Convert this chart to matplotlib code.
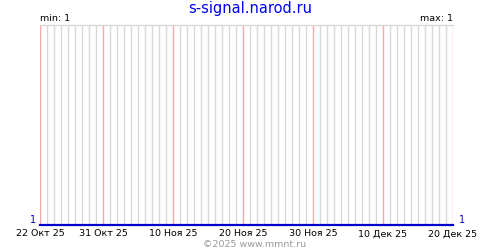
import numpy as np
import pandas as pd
import matplotlib
matplotlib.use("Agg")
import matplotlib.pyplot as plt
import matplotlib.dates as mdates

# Series: one value per day, all equal to 1
dates = pd.date_range("2025-10-22", "2025-12-20", freq="D")
values = [1] * len(dates)

major_dates = pd.to_datetime(["2025-10-22", "2025-10-31", "2025-11-10", "2025-11-20",
                              "2025-11-30", "2025-12-10", "2025-12-20"])
major_labels = ["22 Окт 25", "31 Окт 25", "10 Ноя 25", "20 Ноя 25",
                "30 Ноя 25", "10 Дек 25", "20 Дек 25"]

title = "s-signal.narod.ru"
footer = "©2025 www.mmnt.ru"

fig = plt.figure(figsize=(5, 2.5), dpi=100)
ax = fig.add_axes([0.08, 0.1, 0.826, 0.8])

ax.set_xlim(dates[0], dates[-1])
ax.set_ylim(1, 2)

# daily grid, pink on the labelled days
minor = [d for d in dates if d not in major_dates]
ax.vlines(minor, 1, 2, colors="#d8d8d8", lw=1.0, zorder=1)
ax.vlines(major_dates, 1, 2, colors="#ffa8a8", lw=1.0, zorder=2)

ax.plot(dates, values, color="#0000cc", lw=1.6, zorder=3, clip_on=False)

for s in ["left", "right", "bottom"]:
    ax.spines[s].set_visible(False)
ax.spines["top"].set_color("#d8d8d8")
ax.spines["top"].set_linewidth(1.0)

ax.set_yticks([])
ax.set_xticks(major_dates)
ax.set_xticklabels(major_labels, fontsize=6.8)
ax.tick_params(axis="x", length=0, pad=3)

ax.text(-0.01, 0.0, "1", transform=ax.transAxes, ha="right", va="bottom",
        color="#0000cc", fontsize=7)
ax.text(1.015, 0.0, "1", transform=ax.transAxes, ha="left", va="bottom",
        color="#0000cc", fontsize=7)
ax.text(0.0, 1.01, "min: 1", transform=ax.transAxes, ha="left", va="bottom", fontsize=6.8)
ax.text(1.0, 1.01, "max: 1", transform=ax.transAxes, ha="right", va="bottom", fontsize=6.8)

fig.text(0.5, 0.995, title, ha="center", va="top", color="#0000ff", fontsize=10.5)
fig.text(0.51, 0.005, footer, ha="center", va="bottom", color="#999999", fontsize=6.8)

fig.savefig("out.png", dpi=100)
